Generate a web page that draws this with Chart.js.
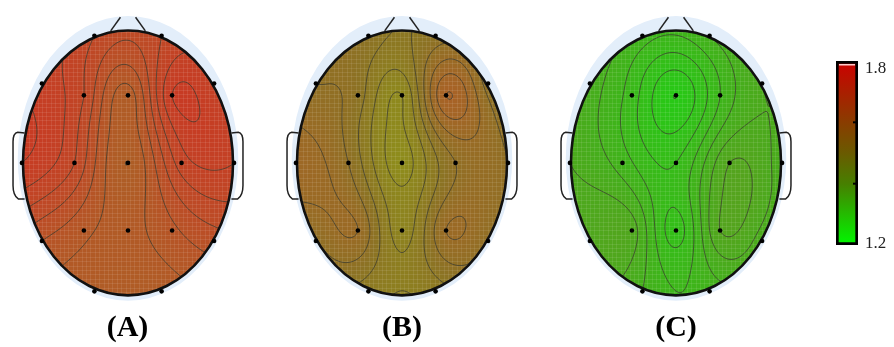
<!DOCTYPE html>
<html><head><meta charset="utf-8">
<script src="https://cdn.jsdelivr.net/npm/chart.js@4.4.1/dist/chart.umd.min.js"></script>
<style>
html,body{margin:0;padding:0;background:#fff;overflow:hidden}
#wrap{position:relative;width:894px;height:347px;overflow:hidden;background:#fff}
canvas{position:absolute;top:0}
.lbl{position:absolute;top:311px;width:120px;text-align:center;font:bold 30px "Liberation Serif","Times New Roman",serif;line-height:30px;color:#000}
</style></head><body><div id="wrap"></div>
<script>
// ---------------- DATA ----------------
const channels = ['Fp1','Fp2','F7','F3','Fz','F4','F8','T3','C3','Cz','C4','T4','T5','P3','Pz','P4','T6','O1','O2'];
const chanX = [-0.32, 0.32,-0.82,-0.42, 0.00, 0.42, 0.82,-1.01,-0.51, 0.00, 0.51, 1.01,-0.82,-0.42, 0.00, 0.42, 0.82,-0.32, 0.32];
const chanY = [ 0.96, 0.96, 0.60, 0.51, 0.51, 0.51, 0.60, 0.00, 0.00, 0.00, 0.00, 0.00,-0.59,-0.51,-0.51,-0.51,-0.59,-0.97,-0.97];
const valuesA = [1.72,1.72,1.75,1.72,1.65,1.76,1.74,1.76,1.72,1.64,1.73,1.74,1.68,1.665,1.655,1.675,1.69,1.65,1.65];
const valuesB = [1.55,1.55,1.56,1.55,1.50,1.62,1.55,1.59,1.56,1.49,1.56,1.56,1.56,1.58,1.51,1.58,1.56,1.53,1.53];
const valuesC = [1.31,1.32,1.33,1.29,1.24,1.30,1.34,1.34,1.31,1.28,1.36,1.33,1.35,1.35,1.27,1.36,1.33,1.32,1.31];
const panelLabels = ['(A)','(B)','(C)'];
const colorMin = 1.2, colorMax = 1.8;
const colorbarTicks = [1.8, 1.2];
const colorbarMinorTicks = [1.6, 1.4];
const contourStep = 0.02;

// ---------------- STYLE / LAYOUT ----------------
const panelCenters = [127.5, 402, 676];
const PANEL_W = 260, H = 347;
const headStops = [ // t -> rgb
  [0.000,[25,212,18]],[0.067,[40,200,22]],[0.217,[72,172,28]],[0.283,[86,163,30]],
  [0.483,[142,140,28]],[0.583,[140,114,36]],[0.667,[162,102,38]],[0.750,[176,92,38]],
  [0.833,[188,76,38]],[0.950,[200,58,36]],[1.000,[206,48,34]]];
const barStops = [[0,'#cc0000'],[0.33,'#8a3c00'],[0.5,'#6a5a00'],[0.67,'#468000'],[1,'#00f800']];

function colormap(v){
  let t = (v-colorMin)/(colorMax-colorMin); t=Math.max(0,Math.min(1,t));
  for(let i=1;i<headStops.length;i++){
    if(t<=headStops[i][0]){
      const [t0,c0]=headStops[i-1],[t1,c1]=headStops[i]; const f=(t-t0)/(t1-t0);
      return [c0[0]+(c1[0]-c0[0])*f, c0[1]+(c1[1]-c0[1])*f, c0[2]+(c1[2]-c0[2])*f];
    }
  }
  return headStops[headStops.length-1][1];
}
function phi(r){ return r>1e-12 ? r*r*Math.log(r) : 0; }
function fitTPS(xs, ys, vs){
  const n=xs.length, m=n+3, A=[];
  for(let i=0;i<m;i++) A.push(new Array(m+1).fill(0));
  for(let i=0;i<n;i++){
    for(let j=0;j<n;j++) A[i][j]=phi(Math.hypot(xs[i]-xs[j], ys[i]-ys[j]));
    A[i][n]=1; A[i][n+1]=xs[i]; A[i][n+2]=ys[i];
    A[n][i]=1; A[n+1][i]=xs[i]; A[n+2][i]=ys[i];
    A[i][m]=vs[i];
  }
  for(let c=0;c<m;c++){
    let p=c; for(let r=c+1;r<m;r++) if(Math.abs(A[r][c])>Math.abs(A[p][c])) p=r;
    [A[c],A[p]]=[A[p],A[c]];
    for(let r=0;r<m;r++){ if(r===c) continue; const f=A[r][c]/A[c][c]; if(f===0) continue;
      for(let k=c;k<=m;k++) A[r][k]-=f*A[c][k]; }
  }
  const w=A.map((row,i)=>row[m]/row[i]);
  return {xs,ys,w,n};
}
function evalTPS(M,u,v){
  let s=M.w[M.n]+M.w[M.n+1]*u+M.w[M.n+2]*v;
  for(let i=0;i<M.n;i++) s+=M.w[i]*phi(Math.hypot(u-M.xs[i], v-M.ys[i]));
  return s;
}

function makeTopoPlugin(values){
  const model = fitTPS(chanX, chanY, values);
  return {
    id:'topo',
    beforeDatasetsDraw(chart){
      const ctx=chart.ctx, xs=chart.scales.x, ys=chart.scales.y;
      const P=(u,v)=>[xs.getPixelForValue(u), ys.getPixelForValue(v)];
      const [cx,cy]=P(0,0); const rx=xs.getPixelForValue(1)-cx, ry=cy-ys.getPixelForValue(1);
      ctx.save();
      // halo
      ctx.fillStyle='#e3eefa';
      ctx.beginPath(); ctx.ellipse(cx, ys.getPixelForValue(0.035), 1.05*rx, 1.075*ry, 0, 0, 2*Math.PI); ctx.fill();
      // field
      const x0=Math.floor(cx-rx-2), x1=Math.ceil(cx+rx+2), y0=Math.floor(cy-ry-2), y1=Math.ceil(cy+ry+2);
      const w=x1-x0, h=y1-y0;
      const off=document.createElement('canvas'); off.width=w; off.height=h;
      const octx=off.getContext('2d'); const img=octx.createImageData(w,h);
      for(let j=0;j<h;j++){ const v=ys.getValueForPixel(y0+j+0.5);
        for(let i=0;i<w;i++){ const u=xs.getValueForPixel(x0+i+0.5);
          if(u*u+v*v>1.08) continue;
          const c=colormap(evalTPS(model,u,v)); const k=(j*w+i)*4;
          img.data[k]=c[0]; img.data[k+1]=c[1]; img.data[k+2]=c[2]; img.data[k+3]=255; } }
      octx.putImageData(img,0,0);
      ctx.beginPath(); ctx.ellipse(cx,cy,rx,ry,0,0,2*Math.PI); ctx.clip();
      ctx.drawImage(off,x0,y0);
      // grid texture
      ctx.strokeStyle='rgba(255,255,255,0.09)'; ctx.lineWidth=1; ctx.beginPath();
      for(let x=x0;x<x1;x+=4.4){ const p=Math.round(x)+0.5; ctx.moveTo(p,y0); ctx.lineTo(p,y1); }
      for(let y=y0;y<y1;y+=4.4){ const p=Math.round(y)+0.5; ctx.moveTo(x0,p); ctx.lineTo(x1,p); }
      ctx.stroke();
      // contours (marching squares)
      const s=2, nx=Math.floor(w/s)+1, ny=Math.floor(h/s)+1, G=[];
      let gmin=Infinity,gmax=-Infinity;
      for(let j=0;j<ny;j++){ const row=[]; const v=ys.getValueForPixel(y0+j*s);
        for(let i=0;i<nx;i++){ const u=xs.getValueForPixel(x0+i*s); const val=evalTPS(model,u,v); row.push(val);
          if(u*u+v*v<=1){gmin=Math.min(gmin,val);gmax=Math.max(gmax,val);} } G.push(row); }
      ctx.strokeStyle='rgba(60,60,50,0.75)'; ctx.lineWidth=1; ctx.beginPath();
      for(let k=Math.ceil(colorMin/contourStep); k<=Math.floor(colorMax/contourStep); k++){
        const L=k*contourStep; if(L<=gmin||L>=gmax) continue;
        for(let j=0;j<ny-1;j++) for(let i=0;i<nx-1;i++){
          const a=G[j][i], b=G[j][i+1], c=G[j+1][i+1], d=G[j+1][i];
          const X=x0+i*s, Y=y0+j*s, pts=[];
          if((a<L)!==(b<L)) pts.push([X+s*(L-a)/(b-a), Y]);
          if((b<L)!==(c<L)) pts.push([X+s, Y+s*(L-b)/(c-b)]);
          if((d<L)!==(c<L)) pts.push([X+s*(L-d)/(c-d), Y+s]);
          if((a<L)!==(d<L)) pts.push([X, Y+s*(L-a)/(d-a)]);
          for(let q=0;q+1<pts.length;q+=2){ ctx.moveTo(pts[q][0],pts[q][1]); ctx.lineTo(pts[q+1][0],pts[q+1][1]); }
        }
      }
      ctx.stroke();
      ctx.restore();
      // outline
      ctx.save();
      ctx.strokeStyle='#111'; ctx.lineWidth=2.6;
      ctx.beginPath(); ctx.ellipse(cx,cy,rx,ry,0,0,2*Math.PI); ctx.stroke();
      ctx.lineWidth=1.5; ctx.strokeStyle='#222';
      for(const sg of [-1,1]){
        ctx.beginPath();
        let p=P(sg*0.985,0.225); ctx.moveTo(p[0],p[1]);
        p=P(sg*1.05,0.232); ctx.lineTo(p[0],p[1]);
        let q=P(sg*1.095,0.225); p=P(sg*1.095,0.16); ctx.quadraticCurveTo(q[0],q[1],p[0],p[1]);
        p=P(sg*1.095,-0.17); ctx.lineTo(p[0],p[1]);
        q=P(sg*1.095,-0.245); p=P(sg*1.045,-0.272); ctx.quadraticCurveTo(q[0],q[1],p[0],p[1]);
        p=P(sg*0.985,-0.272); ctx.lineTo(p[0],p[1]);
        ctx.stroke();
        ctx.beginPath(); p=P(sg*0.165,0.997); ctx.moveTo(p[0],p[1]); p=P(sg*0.072,1.10); ctx.lineTo(p[0],p[1]); ctx.stroke();
      }
      ctx.restore();
    }
  };
}

const wrap=document.getElementById('wrap');
[valuesA,valuesB,valuesC].forEach((vals,idx)=>{
  const cv=document.createElement('canvas'); cv.width=PANEL_W; cv.height=H;
  cv.style.left=Math.round(panelCenters[idx]-PANEL_W/2)+'px';
  wrap.appendChild(cv);
  new Chart(cv,{
    type:'scatter',
    data:{datasets:[{data:channels.map((c,i)=>({x:chanX[i],y:chanY[i]})), pointRadius:2.3, pointBackgroundColor:'#000', pointBorderWidth:0}]},
    options:{responsive:false, animation:false, events:[], layout:{padding:0},
      scales:{x:{type:'linear',min:-1.2,max:1.2,display:false}, y:{type:'linear',min:-1.36,max:1.20,display:false}},
      plugins:{legend:{display:false},tooltip:{enabled:false}}},
    plugins:[makeTopoPlugin(vals)]
  });
  const lb=document.createElement('div'); lb.className='lbl'; lb.textContent=panelLabels[idx];
  lb.style.left=(panelCenters[idx]-60)+'px'; wrap.appendChild(lb);
});

// colorbar
const cb=document.createElement('canvas'); cb.width=74; cb.height=H; cb.style.left='820px'; wrap.appendChild(cb);
new Chart(cb,{
  type:'bar',
  data:{labels:[''],datasets:[{data:[[colorMin,colorMax]],
    backgroundColor:(c)=>{const ch=c.chart; const a=ch.chartArea; if(!a) return '#888';
      const ys=ch.scales.y; const g=ch.ctx.createLinearGradient(0,ys.getPixelForValue(colorMax),0,ys.getPixelForValue(colorMin));
      barStops.forEach(s=>g.addColorStop(s[0],s[1])); return g;},
    borderColor:'#000', borderWidth:3, borderSkipped:false, barPercentage:1, categoryPercentage:1}]},
  options:{responsive:false, animation:false, events:[], layout:{padding:{left:16,right:36,top:61,bottom:102}},
    scales:{x:{display:false}, y:{display:false,min:colorMin,max:colorMax}},
    plugins:{legend:{display:false},tooltip:{enabled:false}}},
  plugins:[{id:'cbl', afterDatasetsDraw(chart){
    const ctx=chart.ctx, ys=chart.scales.y, a=chart.chartArea;
    ctx.save();
    ctx.fillStyle='rgba(255,215,215,0.95)'; ctx.fillRect(a.left+3, ys.getPixelForValue(colorMax)+3, a.right-a.left-6, 1.5);
    ctx.fillStyle='#000';
    colorbarMinorTicks.forEach(t=>{ ctx.fillRect(a.right-5, ys.getPixelForValue(t)-1, 3, 2); });
    ctx.font='17px "Liberation Serif","Times New Roman",serif'; ctx.fillStyle='#222'; ctx.textBaseline='alphabetic';
    colorbarTicks.forEach(t=>{ const y=ys.getPixelForValue(t); ctx.fillText(t.toFixed(1), a.right+7, t===colorMax? y+12 : y+3); });
    ctx.restore();
  }}]
});
</script></body></html>
